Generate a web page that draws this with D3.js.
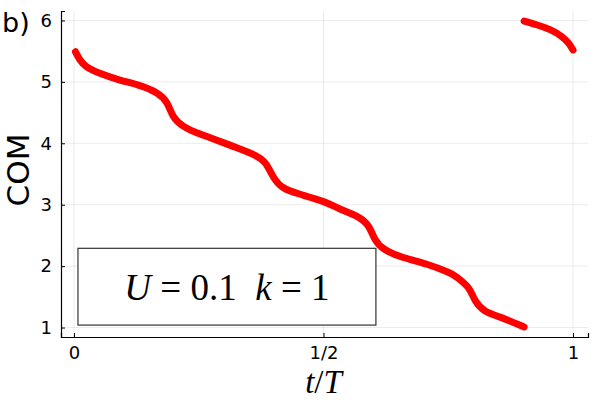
<!DOCTYPE html>
<html>
<head>
<meta charset="utf-8">
<script src="https://cdn.jsdelivr.net/npm/d3@7/dist/d3.min.js"></script>
<style>
  html, body { margin: 0; padding: 0; background: #fff; }
  svg { display: block; }
</style>
</head>
<body>
<script>
// ---- data ----
const tSeg1 = [0.003, 0.012, 0.025, 0.052, 0.092, 0.132, 0.166, 0.186, 0.199, 0.219, 0.246,
               0.273, 0.319, 0.359, 0.383, 0.399, 0.419, 0.453, 0.500, 0.533, 0.567, 0.590,
               0.603, 0.623, 0.660, 0.707, 0.750, 0.767, 0.790, 0.804, 0.824, 0.854, 0.902];
const comSeg1 = [5.49, 5.36, 5.25, 5.14, 5.03, 4.94, 4.82, 4.66, 4.44, 4.28, 4.17,
                 4.09, 3.95, 3.82, 3.68, 3.46, 3.28, 3.17, 3.05, 2.93, 2.81, 2.65,
                 2.44, 2.27, 2.14, 2.03, 1.90, 1.82, 1.65, 1.44, 1.27, 1.17, 1.01];
const tSeg2 = [0.902, 0.927, 0.954, 0.977, 0.991, 1.000];
const comSeg2 = [5.99, 5.93, 5.85, 5.74, 5.63, 5.52];

const xTickValues = [0, 0.5, 1];
const xTickLabels = ["0", "1/2", "1"];
const yTickValues = [1, 2, 3, 4, 5, 6];

const panelLabel = "b)";
const yLabel = "COM";
// annotation box extent in data units
const boxT = [0.008, 0.605];
const boxCom = [1.04, 2.29];

// ---- layout ----
const W = 600, H = 400;
const margin = {left: 61, right: 12, top: 11, bottom: 63};

const svg = d3.select("body").append("svg").attr("width", W).attr("height", H);

const x = d3.scaleLinear().domain([-0.026, 1.030]).range([margin.left, W - margin.right]);
const y = d3.scaleLinear().domain([0.846, 6.154]).range([H - margin.bottom, margin.top]);

// grid
const grid = svg.append("g");
grid.selectAll("line.gx").data(xTickValues).join("line")
  .attr("x1", d => x(d)).attr("x2", d => x(d))
  .attr("y1", margin.top).attr("y2", H - margin.bottom)
  .attr("stroke", "#000").attr("stroke-opacity", 0.08).attr("stroke-width", 1);
grid.selectAll("line.gy").data(yTickValues).join("line")
  .attr("y1", d => y(d)).attr("y2", d => y(d))
  .attr("x1", margin.left).attr("x2", W - margin.right)
  .attr("stroke", "#000").attr("stroke-opacity", 0.08).attr("stroke-width", 1);

// axes
const xAxis = d3.axisBottom(x).tickValues(xTickValues)
  .tickFormat((d, i) => xTickLabels[i]).tickSize(-4).tickPadding(9);
const yAxis = d3.axisLeft(y).tickValues(yTickValues)
  .tickFormat(d3.format("d")).tickSize(-4).tickPadding(9);

const gx = svg.append("g").attr("transform", `translate(0,${H - margin.bottom})`).call(xAxis);
const gy = svg.append("g").attr("transform", `translate(${margin.left},0)`).call(yAxis);
[gx, gy].forEach(g => {
  g.select(".domain").attr("stroke", "#000").attr("stroke-width", 1.2);
  g.selectAll(".tick line").attr("stroke", "#000");
  g.selectAll(".tick text").attr("fill", "#000")
    .style("font-family", "'DejaVu Sans', sans-serif").style("font-size", "18px");
});

// annotation box
svg.append("rect")
  .attr("x", x(boxT[0])).attr("y", y(boxCom[1]))
  .attr("width", x(boxT[1]) - x(boxT[0])).attr("height", y(boxCom[0]) - y(boxCom[1]))
  .attr("fill", "#fff").attr("stroke", "#333").attr("stroke-width", 1.2);

const ann = svg.append("text")
  .attr("x", (x(boxT[0]) + x(boxT[1])) / 2)
  .attr("y", (y(boxCom[0]) + y(boxCom[1])) / 2)
  .attr("dy", "0.35em")
  .attr("text-anchor", "middle")
  .style("font-family", "'Liberation Serif', 'DejaVu Serif', serif")
  .style("font-size", "37px").attr("fill", "#000");
ann.append("tspan").style("font-style", "italic").text("U");
ann.append("tspan").text("\u2005=\u20050.1\u2002");
ann.append("tspan").style("font-style", "italic").text("k");
ann.append("tspan").text("\u2005=\u20051");

// curve
const line = d3.line().x(d => x(d[0])).y(d => y(d[1])).curve(d3.curveNatural);
const seg1 = tSeg1.map((t, i) => [t, comSeg1[i]]);
const seg2 = tSeg2.map((t, i) => [t, comSeg2[i]]);
[seg1, seg2].forEach(seg => {
  svg.append("path").datum(seg).attr("d", line)
    .attr("fill", "none").attr("stroke", "#ff0000").attr("stroke-width", 7)
    .attr("stroke-linecap", "round").attr("stroke-linejoin", "round");
});

// labels
svg.append("text").attr("x", 2).attr("y", 32)
  .style("font-family", "'DejaVu Sans', sans-serif").style("font-size", "27px")
  .attr("fill", "#000").text(panelLabel);

svg.append("text")
  .attr("transform", `translate(29,${(margin.top + H - margin.bottom) / 2 - 4}) rotate(-90)`)
  .attr("text-anchor", "middle")
  .style("font-family", "'DejaVu Sans', sans-serif").style("font-size", "31px")
  .attr("fill", "#000").text(yLabel);

const xl = svg.append("text")
  .attr("x", x(0.5)).attr("y", 393)
  .attr("text-anchor", "middle")
  .style("font-family", "'Liberation Serif', 'DejaVu Serif', serif")
  .style("font-size", "33px").attr("fill", "#000");
xl.append("tspan").style("font-style", "italic").text("t");
xl.append("tspan").text("/");
xl.append("tspan").style("font-style", "italic").text("T");
</script>
</body>
</html>
